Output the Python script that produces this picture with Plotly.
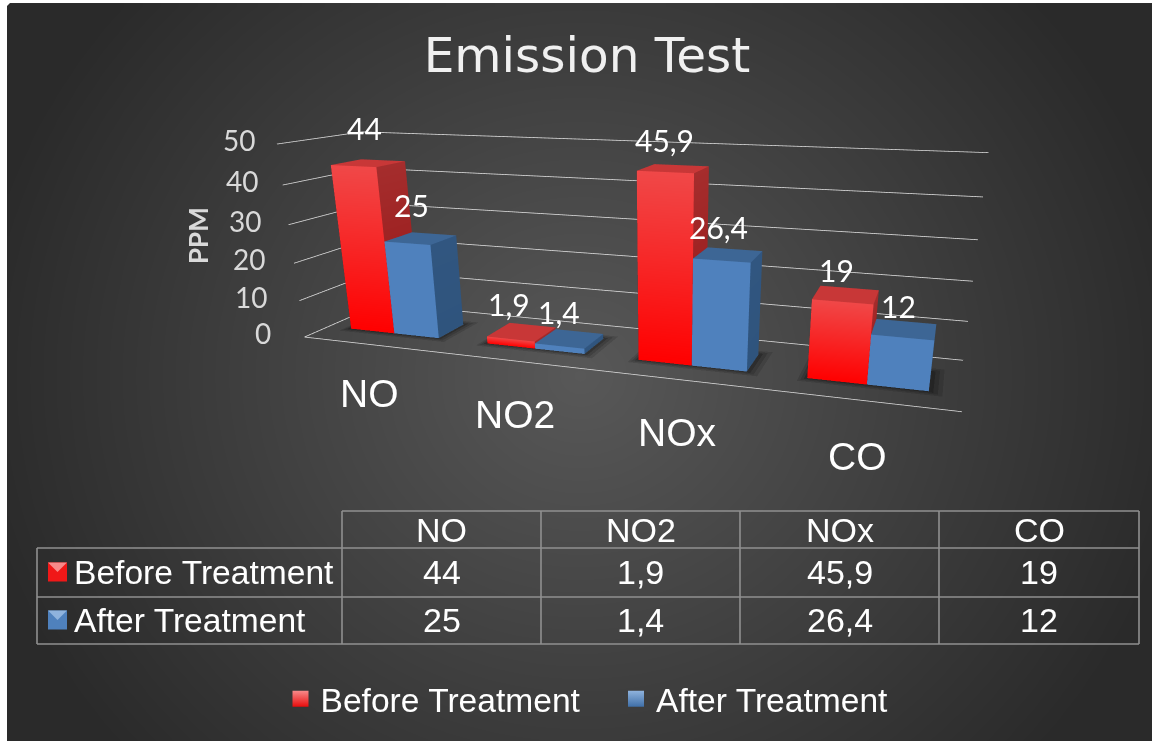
import numpy as np
import plotly.graph_objects as go

categories = ["NO", "NO2", "NOx", "CO"]
before = [44, 1.9, 45.9, 19]
after = [25, 1.4, 26.4, 12]
before_labels = ["44", "1,9", "45,9", "19"]
after_labels = ["25", "1,4", "26,4", "12"]
z_ticks = [0, 10, 20, 30, 40, 50]
title_text = "Emission Test"
z_title = "PPM"
series_names = ["Before Treatment", "After Treatment"]

W, H = 1152, 741
MARGIN = 0.17235
BAR = (1 - 2 * MARGIN) / 2
Y0, Y1 = 0.29404, 0.66454
RED = dict(front_top=(240, 72, 72), front_bot=(255, 0, 0), top=(200, 55, 55), right_top=(165, 45, 45), right_bot=(150, 22, 22))
BLUE = dict(front_top=(79, 129, 189), front_bot=(79, 129, 189), top=(61, 102, 149), right_top=(49, 86, 128), right_bot=(47, 84, 125))


def css(c):
    return "rgb(%d,%d,%d)" % tuple(c)


def bars_mesh(values, offset, col, name):
    xs, ys, zs, cols, I, J, K = [], [], [], [], [], [], []

    def quad(pts, colors):
        n = len(xs)
        for p, c in zip(pts, colors):
            xs.append(p[0]); ys.append(p[1]); zs.append(p[2]); cols.append(css(c))
        I.extend([n, n]); J.extend([n + 1, n + 2]); K.extend([n + 2, n + 3])

    for i, v in enumerate(values):
        x0 = i + MARGIN + offset * BAR
        x1 = x0 + BAR
        quad([(x0, Y0, 0), (x1, Y0, 0), (x1, Y0, v), (x0, Y0, v)],
             [col["front_bot"], col["front_bot"], col["front_top"], col["front_top"]])
        quad([(x0, Y0, v), (x1, Y0, v), (x1, Y1, v), (x0, Y1, v)], [col["top"]] * 4)
        quad([(x1, Y0, 0), (x1, Y1, 0), (x1, Y1, v), (x1, Y0, v)],
             [col["right_bot"], col["right_bot"], col["right_top"], col["right_top"]])
        quad([(x0, Y0, 0), (x0, Y1, 0), (x0, Y1, v), (x0, Y0, v)],
             [col["right_bot"], col["right_bot"], col["right_top"], col["right_top"]])
    return go.Mesh3d(x=xs, y=ys, z=zs, i=I, j=J, k=K, vertexcolor=cols, name=name, flatshading=True,
                     lighting=dict(ambient=1, diffuse=0, specular=0, roughness=1, fresnel=0),
                     hoverinfo="skip", showlegend=False, scene="scene")


def shadow_mesh(grow, opacity, lift):
    xs, ys, zs, I, J, K = [], [], [], [], [], []
    for i in range(len(categories)):
        n = len(xs)
        x0 = i + MARGIN - grow * 0.8
        x1 = i + MARGIN + 2 * BAR + grow * 1.2
        a = Y0 - grow * 1.2
        b = Y1 + grow * 1.5
        xs += [x0, x1, x1, x0]; ys += [a, a, b, b]; zs += [lift] * 4
        I += [n, n]; J += [n + 1, n + 2]; K += [n + 2, n + 3]
    return go.Mesh3d(x=xs, y=ys, z=zs, i=I, j=J, k=K, color="black", opacity=opacity,
                     lighting=dict(ambient=1, diffuse=0, specular=0), hoverinfo="skip", showlegend=False)


# background: radial gradient, cell centres placed so the image edge falls at x=7, y=3
gx = np.linspace(9.4, W + 2.4, 240)
gy = np.linspace(5.5, H + 2.5, 150)
XX, YY = np.meshgrid(gx, gy)
RR = np.sqrt(((XX - 580) / 610) ** 2 + ((YY - 375) / 570) ** 2)
bg = go.Heatmap(x=gx, y=gy, z=RR, zmin=0, zmax=1, zsmooth="best", showscale=False, hoverinfo="skip",
                colorscale=[[0, "#585858"], [1, "#2a2a2a"]], xaxis="x", yaxis="y")

fig = go.Figure()
fig.add_trace(bg)
for nm, c, lt in zip(series_names, ["#e80c0c", "#3f6fa8"], ["#f78a8a", "#8fb3dd"]):
    fig.add_trace(go.Scatter(x=[None], y=[None], mode="markers", name=nm, xaxis="x", yaxis="y",
                             marker=dict(symbol="square", size=20, color=lt, gradient=dict(type="vertical", color=c))))
for t in z_ticks:
    fig.add_trace(go.Scatter3d(x=[0, 0, 4], y=[0, 1, 1], z=[t, t, t], mode="lines", hoverinfo="skip", showlegend=False,
                               line=dict(color="#d9d9d9", width=1.6)))
fig.add_trace(go.Scatter3d(x=[0, 4], y=[0, 0], z=[0, 0], mode="lines", hoverinfo="skip", showlegend=False,
                           line=dict(color="#d9d9d9", width=1.6)))
fig.add_trace(shadow_mesh(0.06, 0.12, 0.02))
fig.add_trace(shadow_mesh(0.04, 0.15, 0.04))
fig.add_trace(shadow_mesh(0.02, 0.2, 0.06))
fig.add_trace(bars_mesh(before, 0, RED, series_names[0]))
fig.add_trace(bars_mesh(after, 1, BLUE, series_names[1]))

TXT = "#ffffff"
NUM = "Lato"
SANS = "Liberation Sans"
annos3d = []
before_shift = [(-4, 35), (-12, 28), (-9, 29), (-9, 25)]
after_shift = [(-9, 33), (-10, 27), (-10, 28), (-6, 23)]
cat_shift = [(-2, -49), (-2, -53), (-2, -53), (-4, -56)]
tick_xshift = [-31, -30, -27, -25, -22, -19]
for i in range(4):
    zc = (Y0 + Y1) / 2
    annos3d.append(dict(x=i + MARGIN + BAR / 2, y=zc, z=before[i], text=before_labels[i], showarrow=False,
                        font=dict(family=NUM, size=30, color=TXT), xshift=before_shift[i][0], yshift=before_shift[i][1]))
    annos3d.append(dict(x=i + MARGIN + 1.5 * BAR, y=zc, z=after[i], text=after_labels[i], showarrow=False,
                        font=dict(family=NUM, size=30, color=TXT), xshift=after_shift[i][0], yshift=after_shift[i][1]))
    annos3d.append(dict(x=i + 0.5, y=0, z=0, text=categories[i], showarrow=False,
                        font=dict(family=SANS, size=39, color=TXT), xshift=cat_shift[i][0], yshift=cat_shift[i][1]))
for t, s in zip(z_ticks, tick_xshift):
    annos3d.append(dict(x=0, y=0, z=t, text=str(t), showarrow=False, xanchor="right",
                        font=dict(family=NUM, size=28, color="#d9d9d9"), xshift=s, yshift=4))

tx = [342, 541, 740, 939, 1139]
ty = [511, 548, 597, 644]
LINE = dict(color="#909090", width=1.6)
shapes = []
for v in tx:
    shapes.append(dict(type="line", xref="x", yref="y", x0=v, x1=v, y0=ty[0], y1=ty[3], line=LINE))
shapes.append(dict(type="line", xref="x", yref="y", x0=37, x1=37, y0=ty[1], y1=ty[3], line=LINE))
shapes.append(dict(type="line", xref="x", yref="y", x0=342, x1=1139, y0=ty[0], y1=ty[0], line=LINE))
for v in ty[1:]:
    shapes.append(dict(type="line", xref="x", yref="y", x0=37, x1=1139, y0=v, y1=v, line=LINE))
for yk, c, lt in [(572, "#f01818", "#f78a8a"), (620, "#4f81bd", "#8fb3dd")]:
    shapes.append(dict(type="rect", xref="x", yref="y", x0=48, x1=67, y0=yk - 9.5, y1=yk + 9.5, fillcolor=c, line=dict(width=0)))
    shapes.append(dict(type="path", xref="x", yref="y", path="M48,%g L67,%g L57.5,%g Z" % (yk - 9.5, yk - 9.5, yk), fillcolor=lt, line=dict(width=0)))
shapes.append(dict(type="path", xref="x", yref="y", path="M7,3 L10,3 L7,6 Z", fillcolor="white", line=dict(width=0)))

annos = []
F = dict(family=SANS, size=34, color=TXT)
F2 = dict(family=SANS, size=33.6, color=TXT)
for i in range(4):
    xc = (tx[i] + tx[i + 1]) / 2
    annos.append(dict(x=xc, y=530, xref="x", yref="y", text=categories[i], showarrow=False, font=F))
    annos.append(dict(x=xc, y=572, xref="x", yref="y", text=before_labels[i], showarrow=False, font=F))
    annos.append(dict(x=xc, y=620, xref="x", yref="y", text=after_labels[i], showarrow=False, font=F))
annos.append(dict(x=72, y=572, xref="x", yref="y", xanchor="left", text=series_names[0], showarrow=False, font=F2))
annos.append(dict(x=72, y=620, xref="x", yref="y", xanchor="left", text=series_names[1], showarrow=False, font=F2))
annos.append(dict(x=198, y=236, xref="x", yref="y", text=z_title, showarrow=False, textangle=-90,
                  font=dict(family=NUM, size=26, color="#d9d9d9", weight="bold")))

hidden = dict(visible=False, showgrid=False, zeroline=False, showline=False, showticklabels=False, showspikes=False, showbackground=False, title="")
fig.update_layout(
    width=W, height=H, margin=dict(l=0, r=0, t=0, b=0), autosize=False, paper_bgcolor="white", plot_bgcolor="rgba(0,0,0,0)",
    title=dict(text=title_text, x=587 / W, xanchor="center", y=1 - 55 / H, yanchor="middle", font=dict(family="DejaVu Sans", size=48.5, color="#f0f0f0")),
    xaxis=dict(domain=[0, 1], range=[0, W], visible=False, fixedrange=True),
    yaxis=dict(domain=[0, 1], range=[H, 0], visible=False, fixedrange=True),
    scene=dict(domain=dict(x=[0.14896, 1], y=[0, 1]), bgcolor="rgba(0,0,0,0)", aspectmode="manual",
               aspectratio=dict(x=3.33431, y=0.69075, z=1),
               xaxis=dict(range=[0, 4], **hidden), yaxis=dict(range=[0, 1], **hidden), zaxis=dict(range=[0, 50], **hidden),
               camera=dict(eye=dict(x=1.53952, y=-4.06644, z=0.96108), center=dict(x=0.32282, y=-0.31867, z=-0.47447),
                           up=dict(x=-0.01272, y=-0.00637, z=1), projection=dict(type="perspective")),
               annotations=annos3d),
    shapes=shapes, annotations=annos,
    legend=dict(orientation="h", x=280.5 / W, xanchor="left", y=1 - 699 / H, yanchor="middle", font=dict(family=SANS, size=33.6, color=TXT),
                bgcolor="rgba(0,0,0,0)", itemclick=False, itemdoubleclick=False, entrywidth=290.5, entrywidthmode="pixels"),
    showlegend=True,
)
fig.write_html("out.html", config=dict(displayModeBar=False),
               post_script="document.body.style.margin='0';document.body.style.overflow='hidden';")
